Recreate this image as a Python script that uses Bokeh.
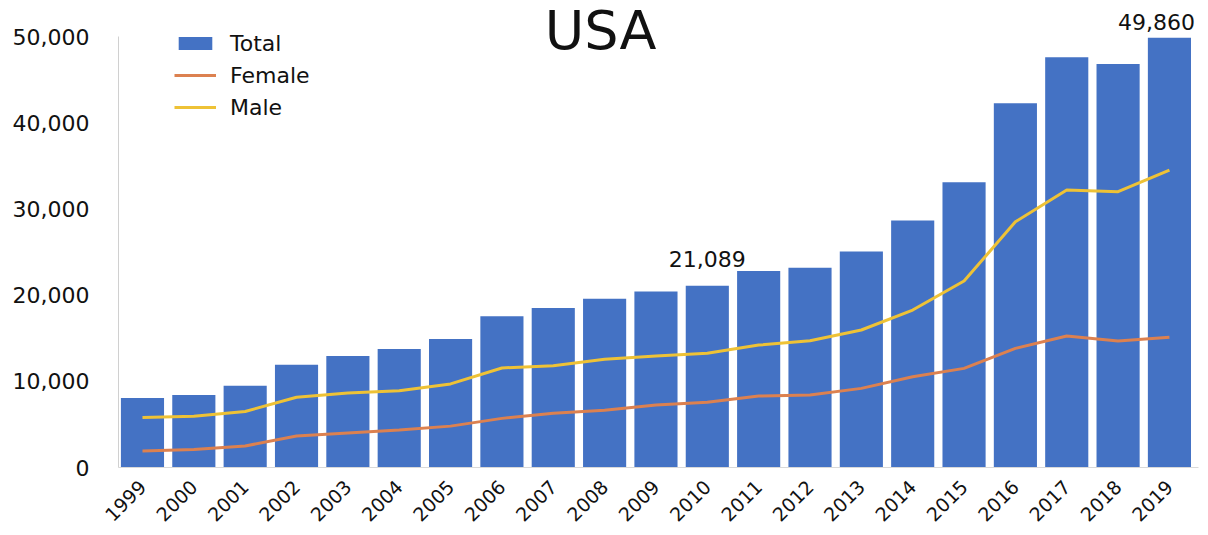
from bokeh.plotting import figure
from bokeh.models import Range1d, FixedTicker, NumeralTickFormatter, Legend, Label
from bokeh.embed import file_html
from bokeh.resources import INLINE
from bokeh.core.properties import value
import math

years = list(range(1999, 2020))
total = [8050, 8407, 9496, 11920, 12940, 13756, 14918, 17545, 18516, 19582, 20422,
         21089, 22784, 23166, 25052, 28647, 33091, 42249, 47600, 46802, 49860]
female = [1900, 2100, 2500, 3650, 4000, 4350, 4800, 5700, 6300, 6650, 7250,
          7560, 8290, 8400, 9180, 10530, 11500, 13820, 15250, 14670, 15100]
male = [5800, 5950, 6500, 8150, 8650, 8900, 9700, 11550, 11800, 12550, 12930,
        13250, 14200, 14700, 15950, 18270, 21630, 28500, 32200, 32000, 34500]
y_ticks = [0, 10000, 20000, 30000, 40000, 50000]
title_text = "USA"
lab1_year = [2010]
lab1_val = [21089]
lab2_year = [2019]
lab2_val = [49860]

FONT = "DejaVu Sans"

p = figure(width=1200, height=530, output_backend="svg", toolbar_location=None,
           x_range=Range1d(1998.533, 2019.566), y_range=Range1d(0, 54180),
           min_border_left=118, min_border_right=2, min_border_top=0, min_border_bottom=63)
p.outline_line_color = None
p.grid.visible = False
p.background_fill_color = "white"

bars = p.vbar(x=years, top=total, width=0.84, color="#4472C4", line_color=None)
fl = p.line(years, female, line_color="#DC8150", line_width=3)
ml = p.line(years, male, line_color="#EEC236", line_width=3)

# value labels
p.text(x=lab1_year, y=lab1_val, text=[f"{v:,}" for v in lab1_val], text_align="center",
       text_baseline="alphabetic", y_offset=-27, text_font=value(FONT), text_font_size="22px",
       text_color="#111111")
for yr, v in zip(lab2_year, lab2_val):
    p.add_layout(Label(x=yr, y=v, text=f"{v:,}", text_align="center", text_baseline="middle",
                       x_offset=-13, y_offset=16, text_font=FONT, text_font_size="22px",
                       text_color="#111111"))

p.add_layout(Label(x=2007.92, y=50750, text=title_text, text_align="center",
                   text_baseline="alphabetic", text_font=FONT, text_font_size="54px",
                   text_color="#111111"))

# axes
p.yaxis.ticker = FixedTicker(ticks=y_ticks)
p.yaxis.formatter = NumeralTickFormatter(format="0,0")
p.yaxis.bounds = (0, 50000)
p.yaxis.axis_line_color = "#D0D0D0"
p.yaxis.major_tick_line_color = None
p.yaxis.minor_tick_line_color = None
p.yaxis.major_label_standoff = 23
p.yaxis.major_label_text_font = FONT
p.yaxis.major_label_text_font_size = "22px"
p.yaxis.major_label_text_color = "#111111"

p.xaxis.ticker = FixedTicker(ticks=years)
p.xaxis.axis_line_color = "#D9D9D9"
p.xaxis.major_tick_line_color = None
p.xaxis.minor_tick_line_color = None
p.xaxis.major_label_orientation = math.pi / 4
p.xaxis.major_label_standoff = 10
p.xaxis.major_label_text_font = FONT
p.xaxis.major_label_text_font_size = "19px"
p.xaxis.major_label_text_color = "#111111"

legend = Legend(items=[("Total", [bars]), ("Female", [fl]), ("Male", [ml])],
                location=(56, 347), padding=0, margin=0, spacing=6,
                glyph_width=42, glyph_height=16, label_height=26, label_standoff=14,
                label_text_font=FONT, label_text_font_size="22px", label_text_color="#111111",
                border_line_color=None, background_fill_alpha=0)
p.add_layout(legend)

open("out.html", "w").write(file_html(p, INLINE))
